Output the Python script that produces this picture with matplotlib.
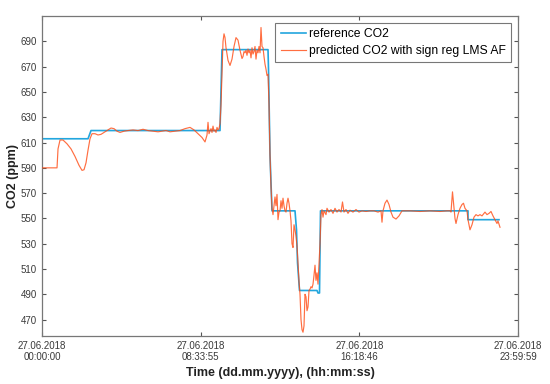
import matplotlib
matplotlib.use("Agg")
import matplotlib.pyplot as plt

# x axis: sample index (ticks equally spaced, labelled with timestamps)
tick_pos = [0, 158.7, 317.3, 476]
tick_labels = ["27.06.2018\n00:00:00", "27.06.2018\n08:33:55",
               "27.06.2018\n16:18:46", "27.06.2018\n23:59:59"]
y_ticks = [470, 490, 510, 530, 550, 570, 590, 610, 630, 650, 670, 690]

ref_s = [0, 46, 49, 178, 180, 226, 226.5, 228, 230, 253, 254.5, 255.5, 257.5,
         275, 276, 277.5, 278.5, 426, 426, 457]
ref_v = [613, 613, 619.5, 619.5, 683.5, 683.5, 668, 600, 556, 556, 541, 515, 493,
         493, 491, 491, 556, 556, 549, 549]

# predicted CO2 as (sample, ppm) pairs
pred_pairs = [
    (0, 590), (15, 590), (16, 605), (18, 612), (21, 612), (25, 609), (29, 605),
    (33, 599), (37, 592), (40, 588), (42, 588.5), (44, 594), (46, 604), (48, 613),
    (50, 617), (53, 617), (56, 616), (59, 616.5), (62, 618), (66, 620), (69, 621.5),
    (72, 621), (75, 619), (78, 618), (82, 619), (86, 619.5), (91, 620), (96, 619.5),
    (101, 620.5), (106, 619.5), (111, 619), (116, 618.5), (120, 619), (124, 619.5),
    (128, 618.5), (133, 619), (138, 619.5), (143, 621), (148, 622), (152, 620),
    (156, 617), (160, 614), (163, 610.5), (165, 616), (166, 626), (167, 617),
    (169, 621), (170, 618), (171, 623), (172, 619), (173, 620), (174, 618),
    (175, 622), (176, 620), (177, 621), (178, 625), (179, 640), (180, 665),
    (181, 690), (182, 696), (183, 693), (184, 685), (186, 675), (188, 671),
    (190, 676), (192, 686), (194, 693), (196, 691), (198, 683), (200, 676.5),
    (201, 678), (202, 682), (203, 681), (204, 683), (205, 679), (206, 684),
    (207, 681), (208, 683), (209, 677), (210, 685), (211, 680), (212, 682),
    (213, 686), (214, 676), (215, 683), (216, 681), (217, 686), (218, 681),
    (219, 701), (220, 686), (221, 685), (222, 678), (223, 672), (224, 668),
    (225, 663), (226, 664), (227, 640), (228, 600), (229, 575), (230, 558),
    (231, 553), (232, 560), (233, 567), (234, 560), (235, 569), (236, 549),
    (237, 555), (238, 556), (239, 564), (240, 558), (241, 566), (242, 560),
    (243, 556), (244, 555), (245, 562), (246, 566), (247, 562), (248, 556),
    (249, 548), (250, 530), (251, 527), (252, 545), (253, 541), (254, 536),
    (255, 528), (256, 515), (257, 500), (258, 490), (259, 470), (260, 462),
    (261, 460), (262, 465), (263, 490), (264, 488), (265, 477), (266, 480),
    (267, 493), (268, 494), (269, 496), (270, 495), (271, 498), (272, 505),
    (273, 513), (274, 501), (275, 507), (276, 498), (278, 530), (279, 553),
    (280, 557), (281, 551), (282, 556), (284, 553), (285, 558), (287, 555),
    (289, 557), (291, 554), (293, 558), (295, 555), (297, 557), (299, 555),
    (300.5, 563), (302, 555), (304, 557), (306, 554), (308, 556.5), (311, 555),
    (314, 557), (317, 555), (320, 556), (324, 555.5), (328, 556), (332, 556),
    (336, 555), (339, 556), (340, 547), (341, 556), (343, 562), (345, 564.5),
    (347, 561), (349, 555), (351, 551), (354, 549.5), (357, 552), (360, 556),
    (368, 556), (378, 555.5), (388, 556), (398, 555.5), (405, 556), (408, 556),
    (409, 555), (410.5, 571), (412, 558), (413, 550), (414, 546), (416, 553),
    (418, 558), (420, 561), (421.5, 562), (423, 558), (425, 556), (426, 549),
    (428, 541), (430, 545), (432, 551), (434, 553), (436, 552), (438, 553),
    (440, 552), (443, 555), (445, 553), (447, 554), (449, 555.5), (451, 552),
    (453, 549), (455, 546), (456, 548), (458, 543),
]
pred_s = [p[0] for p in pred_pairs]
pred_v = [p[1] for p in pred_pairs]

plt.rcParams['font.family'] = ['Liberation Sans', 'DejaVu Sans']

fig = plt.figure(figsize=(5.5, 3.84), dpi=100)
ax = fig.add_axes([0.0764, 0.125, 0.8654, 0.833])

ax.plot(ref_s, ref_v, color='#22a6de', lw=1.2, label='reference CO2', zorder=2)
ax.plot(pred_s, pred_v, color='#ff4a12', lw=0.85, alpha=0.8,
        label='predicted CO2 with sign reg LMS AF', zorder=3)

ax.set_xlim(0, 476)
ax.set_ylim(457, 710)
ax.set_xticks(tick_pos)
ax.set_xticklabels(tick_labels)
ax.set_yticks(y_ticks)
ax.tick_params(direction='in', top=True, right=True, length=3, width=0.8,
               labelsize=7, colors='#555555', labelcolor='#3a3a3a')
for sp in ax.spines.values():
    sp.set_color('#777777')
    sp.set_linewidth(0.9)

ax.set_xlabel('Time (dd.mm.yyyy), (hh:mm:ss)', fontsize=9, fontweight='bold',
              color='#222222', labelpad=3)
ax.set_ylabel('CO2 (ppm)', fontsize=9, fontweight='bold', color='#222222',
              labelpad=1)

leg = ax.legend(loc='upper right', fontsize=8.7, handlelength=2.1, fancybox=False,
                borderpad=0.45, labelspacing=0.4, handletextpad=0.25,
                borderaxespad=0.55, framealpha=1)
leg.get_frame().set_edgecolor('#777777')
leg.get_frame().set_linewidth(0.8)

fig.savefig('out.png', dpi=100)
